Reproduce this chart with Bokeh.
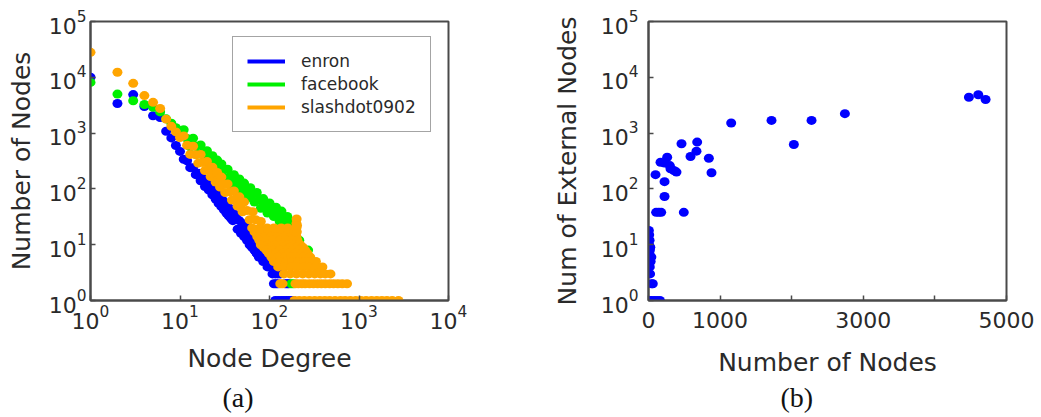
from bokeh.plotting import figure
from bokeh.layouts import row
from bokeh.models import FixedTicker, Legend, LegendItem, Title
from bokeh.embed import file_html
from bokeh.resources import INLINE

# ---------------- data: (a) degree distributions ----------------
enron_degree = [1, 2, 3, 4, 5, 6, 7, 8, 9, 10, 11, 12, 13, 14, 15, 16, 17, 18, 19, 20,
                21, 22, 23, 24, 25, 26, 27, 28, 29, 30, 31, 32, 33, 34, 35, 36, 37, 38, 39, 40,
                42, 44, 46, 48, 50, 52, 54, 56, 58, 60, 62, 64, 66, 68, 70, 72, 74, 76, 78, 80,
                64, 70, 76, 68, 74, 80, 72, 79, 86, 78, 85, 92,
                85, 92, 99, 106, 95, 103, 111, 119, 108, 116, 124, 132,
                112, 118, 124, 150, 158, 165,
                116, 125, 135, 145, 155, 165, 175, 185]
enron_count = [10000, 3400, 4900, 3000, 2050, 1900, 1080, 820, 600, 470,
               340, 320, 240, 240, 180, 190, 140, 155, 110, 125,
               95, 110, 78, 95, 66, 80, 55, 72, 48, 62,
               42, 56, 37, 50, 33, 44, 30, 39, 27, 36,
               32, 19, 27, 16, 24, 14, 21, 12, 18, 10, 16, 9, 14, 8, 13, 7, 12, 6, 10, 6,
               9, 9, 9, 8, 8, 8, 7, 7, 7, 6, 6, 6,
               5, 5, 5, 5, 4, 4, 4, 4, 3, 3, 3, 3,
               2, 2, 2, 2, 2, 2,
               1, 1, 1, 1, 1, 1, 1, 1]

facebook_degree = [1, 2, 3, 4, 5, 6, 7, 8, 9, 10, 11, 12, 13, 14, 15, 16, 17, 18, 19, 20,
                   21, 22, 23, 24, 25, 26, 27, 28, 29, 30, 32, 34, 36, 38, 40, 42, 44, 46, 48, 50,
                   52, 55, 58, 61, 64, 68, 72, 76, 80, 85, 90, 95, 100, 106, 112, 118, 124, 130,
                   136, 143, 150, 158, 165, 172, 180, 188, 196, 205, 215, 225, 240, 255, 270,
                   175, 185]
facebook_count = [8100, 5000, 3800, 3250, 2900, 2400, 1800, 1500, 1250, 1100,
                  1150, 800, 565, 810, 582, 420, 614, 448, 325, 483,
                  358, 263, 393, 293, 218, 328, 246, 184, 280, 211,
                  153, 226, 165, 122, 180, 135, 100, 151, 113, 85,
                  127, 95, 70, 105, 79, 58, 86, 63, 45, 67, 50, 37, 56, 41, 32, 47, 35, 26,
                  40, 30, 22, 32, 23, 17, 25, 15, 13, 11, 12, 9, 8, 7, 8,
                  2, 2]

slashdot_degree = [1, 2, 3, 4, 5, 6, 7, 8, 9, 10, 11, 12, 13, 14, 15, 16, 17, 18, 19, 20,
                   21, 22, 23, 24, 25, 26, 27, 28, 29, 30, 32, 34, 36, 38, 40, 42, 44, 46, 48, 50,
                   52, 56, 60, 65, 70, 75, 80, 86, 92, 98,
                   64, 78, 94, 112, 135, 160, 200,
                   68, 82, 98, 118, 140, 165, 190, 202,
                   73, 88, 105, 125, 150, 175, 200,
                   77, 92, 110, 130, 155, 180, 205,
                   80, 96, 115, 137, 162, 190, 220,
                   86, 103, 122, 145, 170, 200, 235,
                   92, 110, 130, 155, 185, 215, 250,
                   98, 118, 140, 165, 195, 230, 265,
                   105, 125, 148, 175, 205, 240, 285,
                   112, 132, 155, 180, 210, 245, 285, 330,
                   125, 148, 175, 205, 240, 280, 330, 390,
                   145, 170, 200, 235, 275, 320, 370, 420, 480,
                   200, 201, 203,
                   132, 140, 195, 210, 230, 250, 280, 310, 345, 380, 420, 470, 520, 580, 650, 735,
                   190, 215, 245, 280, 320, 365, 415, 470, 540, 620, 700, 800, 920, 1050, 1200,
                   1380, 1580, 1800, 2050, 2350, 2760]
slashdot_count = [28000, 12300, 7800, 4700, 3560, 2760, 1780, 1320, 1050, 830,
                  890, 605, 415, 580, 409, 289, 415, 298, 213, 311,
                  228, 166, 244, 180, 133, 197, 146, 108, 163, 122,
                  86, 123, 89, 63, 92, 67, 49, 72, 53, 39,
                  58, 41, 28, 39, 28, 19, 26, 17, 12, 17,
                  20, 20, 20, 20, 20, 20, 20,
                  17, 17, 17, 17, 17, 17, 17, 17,
                  14, 14, 14, 14, 14, 14, 14,
                  12, 12, 12, 12, 12, 12, 12,
                  10, 10, 10, 10, 10, 10, 10,
                  9, 9, 9, 9, 9, 9, 9,
                  8, 8, 8, 8, 8, 8, 8,
                  7, 7, 7, 7, 7, 7, 7,
                  6, 6, 6, 6, 6, 6, 6,
                  5, 5, 5, 5, 5, 5, 5, 5,
                  4, 4, 4, 4, 4, 4, 4, 4,
                  3, 3, 3, 3, 3, 3, 3, 3, 3,
                  24, 29, 22,
                  2, 2, 2, 2, 2, 2, 2, 2, 2, 2, 2, 2, 2, 2, 2, 2,
                  1, 1, 1, 1, 1, 1, 1, 1, 1, 1, 1, 1, 1, 1, 1,
                  1, 1, 1, 1, 1, 1]

series_names = ["enron", "facebook", "slashdot0902"]
series_colors = ["#0000ff", "#00f000", "#ffa500"]

# ---------------- data: (b) communities ----------------
community_size = [5, 10, 15, 8, 25, 20, 40, 12, 30, 18, 22, 45, 60, 10, 40, 80, 120, 160,
                  98, 107, 144, 177, 168, 224, 224, 224, 261, 298, 307, 354, 391, 493, 461,
                  587, 670, 680, 843, 880, 1155, 1718, 2030, 2277, 2743, 4475, 4606, 4708]
external_nodes = [18, 15, 12, 10, 9, 8, 6, 7, 5, 4, 3, 2, 2, 1, 1, 1, 1, 1,
                  180, 38, 38, 38, 300, 290, 135, 73, 370, 262, 230, 214, 200, 38, 645,
                  380, 475, 690, 355, 195, 1520, 1690, 625, 1690, 2230, 4380, 4870, 4000]

log_ticks = [1, 10, 100, 1000, 10000, 100000]
deg_ticks = [1, 10, 100, 1000, 10000]
size_ticks = [0, 1000, 2000, 3000, 4000, 5000]

FONT = "DejaVu Sans"
TXT = "#2a2a2a"
FRAME = "#4a4a4a"


def style(p):
    p.outline_line_color = FRAME
    p.outline_line_width = 2
    p.xgrid.visible = False
    p.ygrid.visible = False
    p.background_fill_color = "white"
    p.border_fill_color = "white"
    for ax in (p.xaxis[0], p.yaxis[0]):
        ax.axis_line_color = FRAME
        ax.axis_line_width = 2
        ax.major_tick_in = 5
        ax.major_tick_out = 0
        ax.major_tick_line_color = FRAME
        ax.major_tick_line_width = 1.5
        ax.minor_tick_line_color = None
        ax.major_label_text_font = FONT
        ax.major_label_text_font_size = "22px"
        ax.major_label_text_color = TXT
        ax.axis_label_text_font = FONT
        ax.axis_label_text_font_size = "25px"
        ax.axis_label_text_font_style = "normal"
        ax.axis_label_text_color = TXT


def caption(text, offset, standoff):
    return Title(text=text, align="left", offset=offset, standoff=standoff,
                 text_font="Liberation Serif", text_font_size="28px",
                 text_font_style="normal", text_color="#111")


# ---------------- figure (a) ----------------
p1 = figure(width=520, height=417, x_axis_type="log", y_axis_type="log",
            x_range=(1, 1e4), y_range=(1, 1e5),
            output_backend="svg", toolbar_location=None,
            min_border_left=90, min_border_right=72, min_border_top=21, min_border_bottom=117,
            x_axis_label="Node Degree", y_axis_label="Number of Nodes")
style(p1)
p1.xaxis.ticker = FixedTicker(ticks=deg_ticks, minor_ticks=[])
p1.yaxis.ticker = FixedTicker(ticks=log_ticks, minor_ticks=[])
p1.xaxis.major_label_standoff = 4
p1.yaxis.major_label_standoff = 4
p1.xaxis.axis_label_standoff = 12
p1.yaxis.axis_label_standoff = 10

for xs, ys, c in zip([enron_degree, facebook_degree, slashdot_degree],
                     [enron_count, facebook_count, slashdot_count], series_colors):
    p1.ellipse(x=xs, y=ys, width=10, height=9, width_units="screen", height_units="screen",
               fill_color=c, line_color=None)

items = []
for name, c in zip(series_names, series_colors):
    r = p1.line(x=[float("nan")], y=[float("nan")], line_color=c, line_width=4)
    items.append(LegendItem(label=name, renderers=[r]))
legend = Legend(items=items, location=(142, 168),
                border_line_color=FRAME, border_line_width=1.5,
                background_fill_color="white", background_fill_alpha=1.0,
                label_text_font=FONT, label_text_font_size="17px", label_text_color=TXT,
                glyph_width=38, glyph_height=20, label_height=20, label_standoff=16,
                spacing=3, padding=14, margin=0)
p1.add_layout(legend)
p1.add_layout(caption("(a)", 132, 8), "below")

# ---------------- figure (b) ----------------
p2 = figure(width=521, height=417, y_axis_type="log",
            x_range=(0, 5000), y_range=(1, 1e5),
            output_backend="svg", toolbar_location=None,
            min_border_left=128, min_border_right=35, min_border_top=21, min_border_bottom=117,
            x_axis_label="Number of Nodes", y_axis_label="Num of External Nodes")
style(p2)
p2.xaxis.ticker = FixedTicker(ticks=size_ticks, minor_ticks=[])
p2.xaxis.major_label_overrides = {2000: "", 4000: ""}
p2.yaxis.ticker = FixedTicker(ticks=log_ticks, minor_ticks=[])
p2.xaxis.major_label_standoff = 11
p2.yaxis.major_label_standoff = 10
p2.xaxis.axis_label_standoff = 17
p2.yaxis.axis_label_standoff = 16
p2.ellipse(x=community_size, y=external_nodes, width=10, height=9,
           width_units="screen", height_units="screen",
           fill_color=series_colors[0], line_color=None)
p2.add_layout(caption("(b)", 132, 0), "below")

layout = row(p1, p2)
open("out.html", "w").write(file_html(layout, INLINE))
